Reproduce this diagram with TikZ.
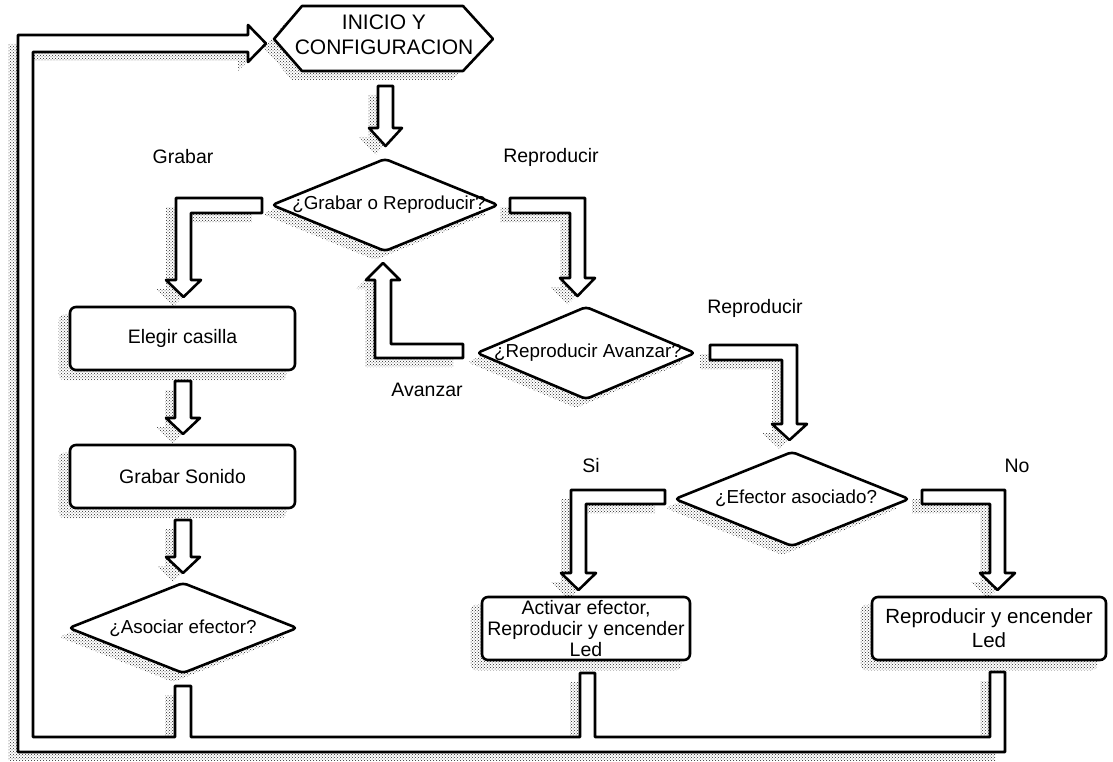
\documentclass[tikz,border=0pt]{standalone}
\usepackage{fontspec}
\setmainfont{Liberation Sans}
\usetikzlibrary{patterns,backgrounds,calc}
\pgfdeclarelayer{bottom}
\pgfsetlayers{bottom,background,main}
\newcommand{\fsA}{\fontsize{18.8}{22}\selectfont}
\newcommand{\fsB}{\fontsize{19.5}{22}\selectfont}
\newcommand{\fsH}{\fontsize{21}{25}\selectfont}
\newcommand{\withshadow}[2][]{%
  \begin{pgfonlayer}{background}\fill[shd,shift={(-10,9)},#1] #2;\end{pgfonlayer}%
  \draw[shp,#1] #2;}
\newcommand{\dpath}[4]{({#1-#3},#2) -- (#1,{#2-#4}) -- ({#1+#3},#2) -- (#1,{#2+#4}) -- cycle}
\newcommand{\boxshadow}[1]{%
  \begin{pgfonlayer}{background}\fill[shd,rounded corners=6pt] ([shift={(-10,9)}]#1.north west) rectangle ([shift={(-10,9)}]#1.south east);\end{pgfonlayer}}
\tikzset{
  shp/.style={draw=black, line width=2.6pt, fill=white, line join=round},
  shd/.style={pattern=crosshatch dots, pattern color=black!85},
  txt/.style={inner sep=0pt, font=\fsA, align=center},
  lbl/.style={inner sep=0pt, font=\fsB, align=center},
  box/.style={shp, rounded corners=6pt, inner sep=0pt, align=center, font=\fsB},
}
\begin{document}
\begin{tikzpicture}[x=1pt,y=-1pt]
\useasboundingbox (0,0) rectangle (1113,762);
\begin{pgfonlayer}{bottom}\fill[white] (0,0) rectangle (1113,762);\end{pgfonlayer}

% return pipe
\withshadow{(248,35) -- (18,35) -- (18,752) -- (1005,752) -- (1005,672) -- (990,672) -- (990,737) -- (595,737) -- (595,673) -- (580,673) -- (580,737) -- (191,737) -- (191,686) -- (175,686) -- (175,737) -- (33,737) -- (33,52) -- (248,52) -- (248,62) -- (266,43.5) -- (248,25) -- cycle}

% hollow arrows
\withshadow{(378,86) -- (393,86) -- (393,128) -- (402,128) -- (385.5,146) -- (369,128) -- (378,128) -- cycle}
\withshadow{(262,198) -- (176,198) -- (176,280) -- (166,280) -- (183.5,297) -- (201,280) -- (191,280) -- (191,213) -- (262,213) -- cycle}
\withshadow{(510,198) -- (585,198) -- (585,278) -- (595,278) -- (577.5,296) -- (560,278) -- (570,278) -- (570,213) -- (510,213) -- cycle}
\withshadow{(463,358) -- (375,358) -- (375,280) -- (366,280) -- (383,263) -- (400,280) -- (391,280) -- (391,344) -- (463,344) -- cycle}
\withshadow{(710,345) -- (797,345) -- (797,424) -- (807,424) -- (789.5,440) -- (772,424) -- (782,424) -- (782,360) -- (710,360) -- cycle}
\withshadow{(665,490) -- (571,490) -- (571,573) -- (561,573) -- (578.5,590) -- (596,573) -- (586,573) -- (586,504) -- (665,504) -- cycle}
\withshadow{(922,490) -- (1005,490) -- (1005,573) -- (1015,573) -- (997.5,590) -- (980,573) -- (990,573) -- (990,504) -- (922,504) -- cycle}
\withshadow{(175,381) -- (191,381) -- (191,418) -- (200,418) -- (183,434) -- (166,418) -- (175,418) -- cycle}
\withshadow{(175,520) -- (191,520) -- (191,557) -- (200,557) -- (183,573) -- (166,557) -- (175,557) -- cycle}

% hexagon
\withshadow{(274,39) -- (302,6) -- (463,6) -- (493,39) -- (463,71) -- (302,71) -- cycle}
\node[txt, font=\fsH] (inicio) at (384,35) {INICIO Y\\CONFIGURACION};

% decisions
\withshadow[rounded corners=4pt]{\dpath{385}{205}{113}{46}}
\node[txt] (q1) at (389,205) {¿Grabar o Reproducir?};
\withshadow[rounded corners=4pt]{\dpath{586}{353}{109}{46}}
\node[txt] (q2) at (588,353) {¿Reproducir Avanzar?};
\withshadow[rounded corners=4pt]{\dpath{792}{499}{117}{47}}
\node[txt] (q3) at (796,498) {¿Efector asociado?};
\withshadow[rounded corners=4pt]{\dpath{183}{628}{114}{45}}
\node[txt] (q4) at (183,628) {¿Asociar efector?};

% process boxes
\node[box, minimum width=225pt, minimum height=63pt] (b1) at (182.5,338.5) {Elegir casilla};
\boxshadow{b1}
\node[box, minimum width=225pt, minimum height=63pt] (b2) at (182.5,476.5) {Grabar Sonido};
\boxshadow{b2}
\node[box, minimum width=208pt, minimum height=63pt, font=\fontsize{19.5}{21}\selectfont] (b3) at (586,628.5) {Activar efector,\\Reproducir y encender\\Led};
\boxshadow{b3}
\node[box, minimum width=234pt, minimum height=63pt, font=\fontsize{20.5}{24}\selectfont] (b4) at (989,628.5) {Reproducir y encender\\Led};
\boxshadow{b4}

% labels
\node[lbl] (lg) at (183,157) {Grabar};
\node[lbl] (lr1) at (551,157) {Reproducir};
\node[lbl] (lr2) at (755,308) {Reproducir};
\node[lbl] (la) at (427,390) {Avanzar};
\node[lbl] (lsi) at (591,466) {Si};
\node[lbl] (lno) at (1017,466) {No};
\end{tikzpicture}
\end{document}
